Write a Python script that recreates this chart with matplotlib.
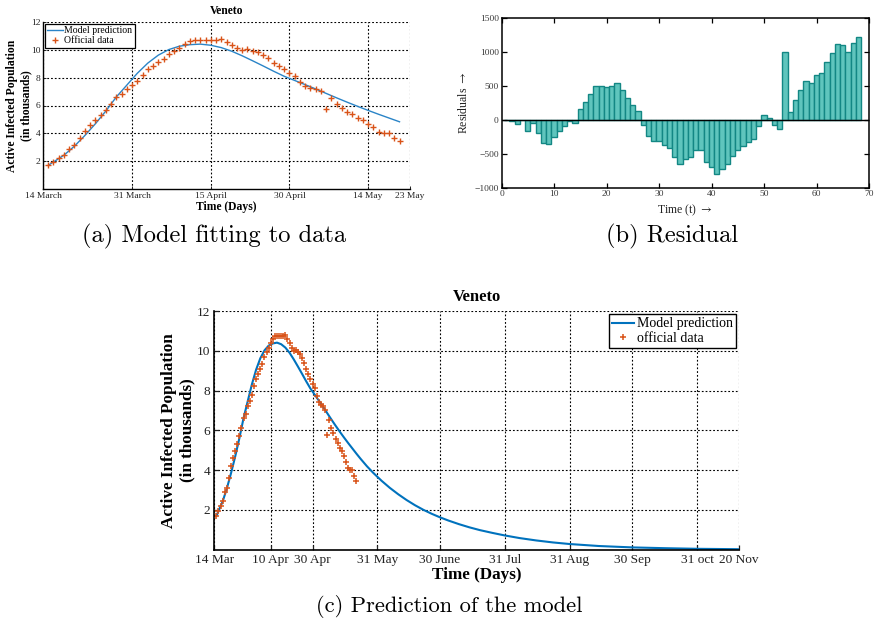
import matplotlib
matplotlib.use('Agg')
import matplotlib.pyplot as plt
import numpy as np

# ---------------- data ----------------
days = list(range(1, 69))
official = [1.70, 1.96, 2.20, 2.43, 2.91, 3.13, 3.63, 4.20, 4.63, 4.94,
            5.30, 5.70, 6.11, 6.63, 6.83, 7.21, 7.47, 7.78, 8.21, 8.59,
            8.85, 9.09, 9.36, 9.69, 9.93, 10.14, 10.41, 10.60, 10.72, 10.72,
            10.72, 10.72, 10.72, 10.79, 10.57, 10.38, 10.14, 10.00, 10.05, 9.93,
            9.86, 9.62, 9.40, 9.07, 8.85, 8.59, 8.35, 8.14, 7.71, 7.42,
            7.28, 7.21, 7.04, 5.75, 6.52, 6.13, 5.85, 5.56, 5.39, 5.13,
            4.96, 4.70, 4.42, 4.13, 3.99, 3.99, 3.70, 3.48]

model_days = [1, 4, 6, 8, 10, 12, 14, 16, 18, 20, 22, 24, 26, 28, 30, 32, 34,
              36, 38, 40, 42, 44, 46, 48, 50, 52, 54, 56, 58, 60, 62, 64, 66,
              68, 70, 73, 76, 80, 84, 88, 92, 96, 100, 104, 108, 112, 117,
              122, 127, 133, 139, 146, 154, 162, 170, 184, 200, 216, 231, 251]
model_vals = [1.70, 2.43, 3.08, 3.85, 4.69, 5.61, 6.62, 7.47, 8.32, 9.05,
              9.62, 10.02, 10.26, 10.37, 10.41, 10.33, 10.16, 9.90, 9.57, 9.21,
              8.84, 8.46, 8.10, 7.80, 7.50, 7.19, 6.87, 6.55, 6.24, 5.94,
              5.65, 5.37, 5.10, 4.83, 4.57, 4.20, 3.87, 3.47, 3.11, 2.79,
              2.50, 2.24, 2.01, 1.81, 1.63, 1.47, 1.29, 1.13, 0.99, 0.85,
              0.72, 0.59, 0.47, 0.37, 0.29, 0.19, 0.12, 0.08, 0.05, 0.03]

resid_t = list(range(1, 69))
residuals = [-5, -10, -55, 0, -165, -50, -200, -345, -358, -258,
             -170, -90, -10, -44, 158, 265, 382, 500, 500, 485,
             505, 539, 443, 320, 225, 130, -73, -230, -314, -309,
             -375, -412, -544, -652, -583, -544, -446, -446, -622, -691,
             -799, -730, -657, -534, -446, -387, -323, -279, -93, 69,
             34, -73, -127, 1009, 118, 299, 446, 573, 549, 662,
             691, 848, 985, 1117, 1103, 1009, 1132, 1220]

a_xticks = [0, 17, 32, 47, 62, 70]
a_xlabels = ['14 March', '31 March', '15 April', '30 April', '14 May', '23 May']
c_xticks = [0, 27, 47, 78, 108, 139, 170, 200, 231, 251]
c_xlabels = ['14 Mar', '10 Apr', '30 Apr', '31 May', '30 June', '31 Jul',
             '31 Aug', '30 Sep', '31 oct', '20 Nov']
y_ticks = [2, 4, 6, 8, 10, 12]
b_xticks = [0, 10, 20, 30, 40, 50, 60, 70]
b_yticks = [-1000, -500, 0, 500, 1000, 1500]

# ---------------- style ----------------
SERIF = ['Liberation Serif', 'DejaVu Serif']
plt.rcParams['font.family'] = SERIF
plt.rcParams['axes.unicode_minus'] = True
plt.rcParams['mathtext.fontset'] = 'stix'

W, H = 874, 624
fig = plt.figure(figsize=(W / 100, H / 100), dpi=100)


def box(l, t, r, b):
    return [l / W, 1 - b / H, (r - l) / W, (b - t) / H]


def fx(px):
    return px / W


def fy(py):
    return 1 - py / H


BLUE = '#0072BD'
ORANGE = '#D95319'
GRID = dict(color='black', linestyle=(0, (1.6, 1.8)), linewidth=0.8)

md = np.array(model_days)
mv = np.array(model_vals)

# ---------------- (a) ----------------
axA = fig.add_axes(box(43, 22, 410, 189))
k = md <= 68
axA.plot(md[k], mv[k], color='#2a84c7', lw=1.0, label='Model prediction')
axA.plot(days, official, ls='none', marker='+', ms=3.8, mew=1.0,
         color=ORANGE, label='Official data')
axA.set_xlim(0, 70)
axA.set_ylim(0, 12)
axA.set_xticks(a_xticks)
axA.set_xticklabels(a_xlabels)
axA.set_yticks(y_ticks)
axA.grid(True, **GRID)
for s in ['top', 'right']:
    axA.spines[s].set_visible(False)
for s in ['left', 'bottom']:
    axA.spines[s].set_linewidth(1.0)
axA.tick_params(direction='in', length=2.5, width=0.7, labelsize=6.8, pad=2,
                colors='#222222')
axA.set_title('Veneto', fontsize=8.4, fontweight='bold', pad=6)
axA.set_xlabel('Time (Days)', fontsize=8.4, fontweight='bold', labelpad=1)
fig.text(fx(19), fy(106), 'Active Infected Population\n(in thousands)',
         rotation=90, ha='center', va='center', fontsize=8.4,
         fontweight='bold', multialignment='center', linespacing=1.3)
legA = axA.legend(loc='upper left', bbox_to_anchor=(fx(45), fy(24)),
                  bbox_transform=fig.transFigure, borderaxespad=0,
                  fontsize=7, frameon=True, fancybox=False, framealpha=1,
                  edgecolor='black', handlelength=1.6, handletextpad=0.15,
                  borderpad=0.25, labelspacing=0.1, markerscale=1.0)
legA.get_frame().set_linewidth(0.9)

# ---------------- (b) ----------------
axB = fig.add_axes(box(501.5, 18.3, 869, 187.7))
axB.bar(resid_t, residuals, width=1.0, color='#5fc5bd', edgecolor='#138784',
        linewidth=1.0, zorder=2)
axB.axhline(0, color='black', lw=1.0, zorder=3)
axB.set_xlim(0, 70)
axB.set_ylim(-1000, 1500)
axB.set_xticks(b_xticks)
axB.set_yticks(b_yticks)
for s in axB.spines.values():
    s.set_linewidth(1.1)
axB.tick_params(direction='in', length=3.5, width=0.9, labelsize=6.8,
                top=True, right=True, pad=2, labelcolor='#3a3a3a')
axB.set_xlabel(r'Time (t) $\rightarrow$', fontsize=8.5, labelpad=3,
               color='#222222')
axB.set_ylabel(r'Residuals $\rightarrow$', fontsize=8.5, labelpad=3,
               color='#222222')

# ---------------- (c) ----------------
axC = fig.add_axes(box(214.3, 311, 739, 549.8))
axC.plot(md, mv, color=BLUE, lw=1.5, label='Model prediction')
axC.plot(days, official, ls='none', marker='+', ms=5, mew=1.1,
         color=ORANGE, label='official data')
axC.set_xlim(0, 251)
axC.set_ylim(0, 12)
axC.set_xticks(c_xticks)
axC.set_xticklabels(c_xlabels)
axC.set_yticks(y_ticks)
axC.grid(True, **GRID)
for s in ['top', 'right']:
    axC.spines[s].set_visible(False)
for s in ['left', 'bottom']:
    axC.spines[s].set_linewidth(1.2)
axC.tick_params(direction='in', length=3.5, width=0.9, labelsize=9.6, pad=3,
                colors='#222222')
axC.set_title('Veneto', fontsize=12, fontweight='bold', pad=7)
axC.set_xlabel('Time (Days)', fontsize=12.3, fontweight='bold', labelpad=1)
fig.text(fx(178), fy(430.5), 'Active Infected Population\n(in thousands)',
         rotation=90, ha='center', va='center', fontsize=12.3,
         fontweight='bold', multialignment='center', linespacing=1.2)
legC = axC.legend(loc='upper right', bbox_to_anchor=(fx(736), fy(314)),
                  bbox_transform=fig.transFigure, borderaxespad=0,
                  fontsize=10, frameon=True, fancybox=False, framealpha=1,
                  edgecolor='black', handlelength=1.6, handletextpad=0.15,
                  borderpad=0.25, labelspacing=0.1)
legC.get_frame().set_linewidth(1.0)

# ---------------- captions ----------------
CAP = dict(family='cmr10', ha='center', va='center', color='black')
fig.text(fx(214), fy(236), '(a) Model fitting to data', fontsize=17.6, **CAP)
fig.text(fx(672), fy(236), '(b) Residual', fontsize=17.6, **CAP)
fig.text(fx(449), fy(606), '(c) Prediction of the model', fontsize=16.2, **CAP)

fig.savefig('out.png', dpi=100)
